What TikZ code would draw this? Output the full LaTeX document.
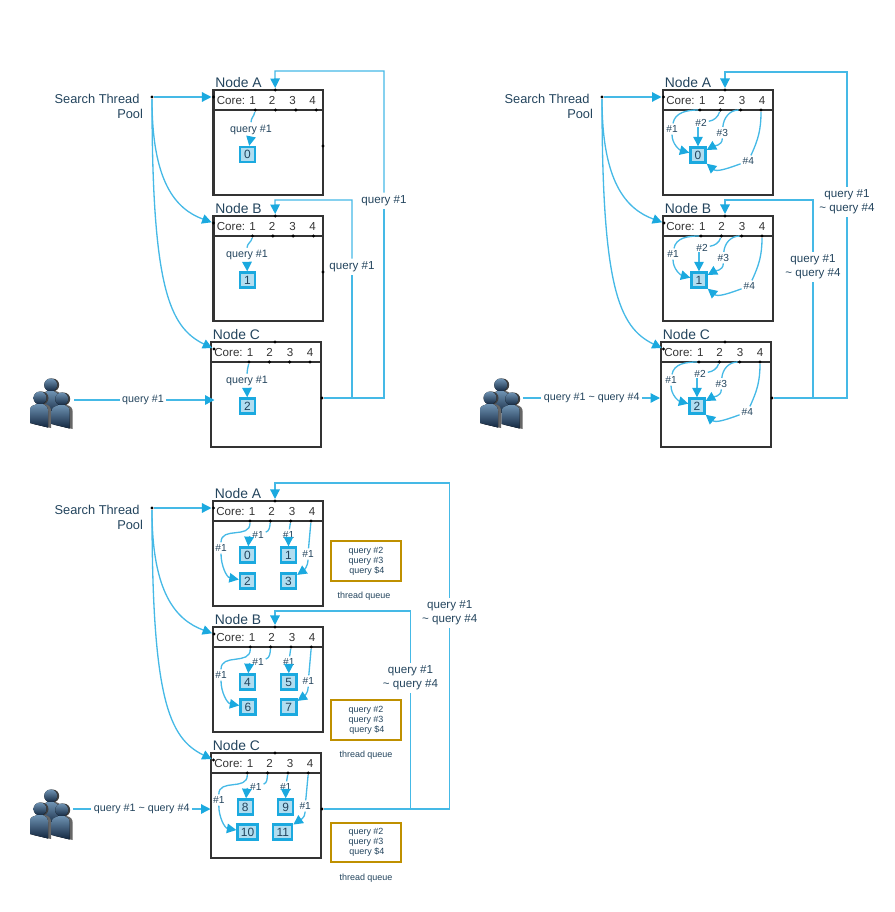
\documentclass[tikz,border=0pt]{standalone}
\usepackage{fontspec}
\setmainfont{Liberation Sans}
\usepackage{xcolor}
\usetikzlibrary{arrows.meta}
\definecolor{ink}{HTML}{23445D}
\definecolor{frame}{HTML}{333333}
\definecolor{flowblue}{HTML}{1BA9DF}
\definecolor{flowlight}{HTML}{45B9E6}
\definecolor{cellfill}{HTML}{B1DDF0}
\definecolor{gold}{HTML}{BF9000}
\definecolor{HeadBlue}{HTML}{6F93B3}
\definecolor{FootBlue}{HTML}{12263F}
\tikzset{
  boxline/.style={draw=frame, line width=1.15pt},
  flowline/.style={draw=flowlight, line width=0.75pt},
  flow/.style={flowline, -{Triangle[length=5.4pt,width=5.4pt,color=flowblue,fill=flowblue]}},
  dot/.style={circle, fill=black, inner sep=0pt, minimum size=1.9pt},
  cell/.style={rectangle, draw=flowblue, fill=cellfill, line width=1.3pt, minimum size=8.6pt, inner xsep=1.9pt, inner ysep=0pt, text=ink, font=\fontsize{6.8}{8}\selectfont},
  title/.style={text=ink, inner sep=0pt, font=\fontsize{7.9}{9}\selectfont},
  corelbl/.style={text=frame, inner sep=0pt, font=\fontsize{6.6}{8}\selectfont},
  pool/.style={text=ink, inner sep=0pt, align=right, font=\fontsize{7.3}{8.6}\selectfont},
  lbl/.style={text=ink, inner sep=1.2pt, font=\fontsize{6.1}{7.5}\selectfont},
  hash/.style={text=ink, inner sep=1pt, font=\fontsize{5.8}{7}\selectfont},
  loopa/.style={text=ink, inner sep=1.6pt, align=center, font=\fontsize{6.6}{8.1}\selectfont},
  queuebox/.style={rectangle, draw=gold, line width=1.15pt, minimum width=40pt, minimum height=22.7pt, inner sep=0pt, text=ink, align=center, font=\fontsize{5.1}{5.67}\selectfont},
  queuelbl/.style={text=ink, inner sep=0pt, font=\fontsize{5.1}{6}\selectfont},
  personbody/.style={top color=HeadBlue, bottom color=FootBlue},
}

\newcommand{\nodebox}[7]{
  \begin{scope}[shift={(#2,#3)}]
    \draw[boxline] (0,0) rectangle (#7,105);
    \draw[boxline] (0,20) -- (#7,20);
    \node[title, anchor=west] (#1title) at (1.5,-7) {#4};
    \node[corelbl, anchor=base west] (#1core) at (3,14.3) {Core: 1};
    \node[corelbl, anchor=base] (#1n2) at (58.5,14.3) {2};
    \node[corelbl, anchor=base] (#1n3) at (79,14.3) {3};
    \node[corelbl, anchor=base] (#1n4) at (99,14.3) {4};
    \foreach \i in {1,...,4}
      \node[dot] (#1c\i) at ({#5+(\i-1)*20.33},20) {};
    \node[dot] (#1top) at (#6,0) {};
  \end{scope}
}
\newcommand{\personicon}[2]{
  \begin{scope}[shift={(#1,#2)}]
    \fill[black!75] (2,0) circle (6.5);
    \fill[black!60] (-7,26) -- (-7,12) .. controls (-7,8) and (-3,7) .. (0,6) -- (5,6) .. controls (9,7) and (11,9) .. (11,13) -- (11,30) -- cycle;
    \fill[personbody] (0,0) circle (6.5);
    \fill[personbody] (-10,25) -- (-10,12) .. controls (-10,8) and (-6,7) .. (-3,6) -- (3,6) .. controls (6,7) and (8,9) .. (8,13) -- (8,29.5) -- cycle;
  \end{scope}
}
\newcommand{\crowdicon}[2]{
  \begin{scope}[shift={(#1,#2)}]
    \personicon{20.7}{8}
    \personicon{10}{21}
    \personicon{31.7}{22}
  \end{scope}
}
\newcommand{\searchpool}[3]{
  \node[pool, anchor=north east] (#1pool) at (#2-8.7,#3-3) {Search Thread\hspace*{2pt}\\Pool};
  \node[dot] (#1hub) at (#2,#3) {};
}
\newcommand{\singleflow}[5]{
  \node[cell] (#1cell) at (#4,#5) {#2};
  \node[lbl] (#1query) at (#3,#5-25) {query \#1};
  \draw[flowline] (#1c1) to[out=-100,in=90] (#1query.north);
  \draw[flow] (#1query.south) -- (#1cell);
}
\newcommand{\fourflows}[4]{
  \begin{scope}[shift={(#3,#4)}]
    \node[cell] (#1cell) at (0,0) {#2};
    \node[hash] (#1h1) at (-26,-26) {\#1};
    \node[hash] (#1h2) at (3,-32.3) {\#2};
    \node[hash] (#1h3) at (24.3,-22.3) {\#3};
    \node[hash] (#1h4) at (50.3,6) {\#4};
    \coordinate (#1h2end) at (0,-28);
  \end{scope}
  \draw[flow] (#1c1) to[out=180,in=80] (#1h1) to[out=-90,in=165] (#1cell);
  \draw[flowline] (#1c2) to[out=-110,in=10] (#1h2);
  \draw[flow] (#1h2end) -- (#1cell);
  \draw[flow] (#1c3) to[out=180,in=85] (#1h3) to[out=-90,in=30] (#1cell);
  \draw[flow] (#1c4) to[out=-90,in=65] (#1h4) to[out=-160,in=-40] (#1cell.south east);
}
\newcommand{\splitflows}[8]{
  \pgfmathtruncatemacro{\cellb}{#2+1}
  \pgfmathtruncatemacro{\cellc}{#2+2}
  \pgfmathtruncatemacro{\celld}{#2+3}
  \node[cell] (#1cella) at (#3,#5) {#2};
  \node[cell] (#1cellb) at (#4,#5) {\cellb};
  \node[cell] (#1cellc) at (#6,#8) {\cellc};
  \node[cell] (#1celld) at (#7,#8) {\celld};
  \node[hash] (#1ha) at (#3-26.5,#5-7) {\#1};
  \node[hash] (#1hb) at (#3+10.5,#5-20) {\#1};
  \node[hash] (#1hc) at (#4,#5-20) {\#1};
  \node[hash] (#1hd) at (#4+19.5,#5-1) {\#1};
  \draw[flow] (#1c1) to[out=-90,in=90,looseness=1.2] (#1ha) to[out=-90,in=170] (#1cellc);
  \draw[flow] (#1c2) to[out=-95,in=20] (#1hb) to[out=190,in=85] (#1cella);
  \draw[flowline] (#1c3) -- (#1hc);
  \draw[flow] (#1hc) -- (#1cellb);
  \draw[flowline] (#1c4) -- (#1hd);
  \draw[flow] (#1hd) to[out=-90,in=35] (#1celld);
}
\newcommand{\hubarrows}[1]{
  \draw[flow] (#1hub) -- (#1aleft);
  \draw[flow] (#1hub) .. controls +(0,85) and +(-38,-14) .. (#1bleft);
  \draw[flow] (#1hub) .. controls +(0,190) and +(-45,-22) .. (#1cleft);
}
\newcommand{\queuebox}[5]{
  \node[queuebox] (#1queue) at (#2,#3) {query \#2\\query \#3\\\hspace{1pt}query \$4};
  \node[queuelbl] (#1qlabel) at (#4,#5) {thread queue};
}

\begin{document}
\begin{tikzpicture}[x=0.02cm, y=-0.02cm]
  \useasboundingbox (0,0) rectangle (895,912);

  % first panel
  \nodebox{pa}{213.5}{90}{Node A}{41.7}{61.7}{109.5}
  \nodebox{pb}{213.5}{216}{Node B}{39}{61.7}{109.5}
  \nodebox{pc}{211}{342}{Node C}{38}{64}{110}
  \searchpool{p}{152}{97}
  \node[dot] (paleft) at (213.5,97) {};
  \node[dot] (pbleft) at (213.5,223) {};
  \node[dot] (pcleft) at (214,349) {};
  \hubarrows{p}
  \singleflow{pa}{0}{251}{247.5}{154.5}
  \singleflow{pb}{1}{247}{247.5}{280}
  \singleflow{pc}{2}{247}{247.5}{406}
  \node[dot] (paside) at (323,146) {};
  \node[dot] (pbside) at (323,272) {};
  \node[dot] (pcside) at (322,398) {};
  \node[loopa] (ploopa) at (384,201) {query \#1};
  \node[loopa] (ploopb) at (352,267) {query \#1};
  \coordinate (pbenda) at (275,71);
  \coordinate (pbendb) at (275,200);
  \draw[flowline] (pcside) -| (ploopa.south);
  \draw[flowline] (pcside) -| (ploopb.south);
  \draw[flow] (ploopa.north) |- (pbenda) -- (patop);
  \draw[flow] (ploopb.north) |- (pbendb) -- (pbtop);
  \crowdicon{30}{377}
  \coordinate (pfrom) at (74,400);
  \coordinate (pinto) at (214.5,400);
  \node[lbl] (puser) at (143,400) {query \#1};
  \draw[flowline] (pfrom) -- (puser);
  \draw[flow] (puser) -- (pinto);

  % second panel
  \nodebox{qa}{663}{90}{Node A}{37}{62}{110}
  \nodebox{qb}{663}{216}{Node B}{38}{62}{110}
  \nodebox{qc}{661}{342}{Node C}{38}{64}{110}
  \searchpool{q}{602}{97}
  \node[dot] (qaleft) at (663.5,97) {};
  \node[dot] (qbleft) at (664,223) {};
  \node[dot] (qcleft) at (663.5,349) {};
  \hubarrows{q}
  \fourflows{qa}{0}{698}{155}
  \fourflows{qb}{1}{699}{280}
  \fourflows{qc}{2}{697}{406}
  \node[dot] (qcside) at (772,398) {};
  \node[loopa] (qloopa) at (847,202) {query \#1\\\textasciitilde{} query \#4};
  \node[loopa] (qloopb) at (813,267) {query \#1\\\textasciitilde{} query \#4};
  \coordinate (qbenda) at (725,72);
  \coordinate (qbendb) at (725,200);
  \draw[flowline] (qcside) -| (qloopa.south);
  \draw[flowline] (qcside) -| (qloopb.south);
  \draw[flow] (qloopa.north) |- (qbenda) -- (qatop);
  \draw[flow] (qloopb.north) |- (qbendb) -- (qbtop);
  \crowdicon{480}{377}
  \coordinate (qfrom) at (523,398);
  \coordinate (qinto) at (660,398);
  \node[lbl] (quser) at (591.7,398) {query \#1 \textasciitilde{} query \#4};
  \draw[flowline] (qfrom) -- (quser);
  \draw[flow] (quser) -- (qinto);

  % third panel
  \nodebox{ra}{213}{501}{Node A}{37}{62}{110}
  \nodebox{rb}{213}{627}{Node B}{37.3}{62}{110}
  \nodebox{rc}{211}{753}{Node C}{36.3}{64}{110}
  \searchpool{r}{152}{508}
  \node[dot] (raleft) at (213.5,508) {};
  \node[dot] (rbleft) at (214,634) {};
  \node[dot] (rcleft) at (213.5,760) {};
  \hubarrows{r}
  \splitflows{ra}{0}{247.5}{288.5}{555}{247.5}{288.5}{581}
  \splitflows{rb}{4}{247.5}{288.8}{682}{248}{288.8}{707}
  \splitflows{rc}{8}{245.3}{285.7}{807}{247.5}{282.7}{832}
  \node[dot] (rcside) at (322,809) {};
  \node[loopa] (rloopa) at (449.7,613) {query \#1\\\textasciitilde{} query \#4};
  \node[loopa] (rloopb) at (410.5,678) {query \#1\\\textasciitilde{} query \#4};
  \coordinate (rbenda) at (275,483);
  \coordinate (rbendb) at (275,611);
  \draw[flowline] (rcside) -| (rloopa.south);
  \draw[flowline] (rcside) -| (rloopb.south);
  \draw[flow] (rloopa.north) |- (rbenda) -- (ratop);
  \draw[flow] (rloopb.north) |- (rbendb) -- (rbtop);
  \crowdicon{30}{788}
  \coordinate (rfrom) at (73,809);
  \coordinate (rinto) at (210.5,809);
  \node[lbl] (ruser) at (141.7,809) {query \#1 \textasciitilde{} query \#4};
  \draw[flowline] (rfrom) -- (ruser);
  \draw[flow] (ruser) -- (rinto);
  \queuebox{ra}{366}{561}{364}{595.7}
  \queuebox{rb}{366}{720}{366}{755}
  \queuebox{rc}{366}{842.5}{366}{877.7}
\end{tikzpicture}
\end{document}
